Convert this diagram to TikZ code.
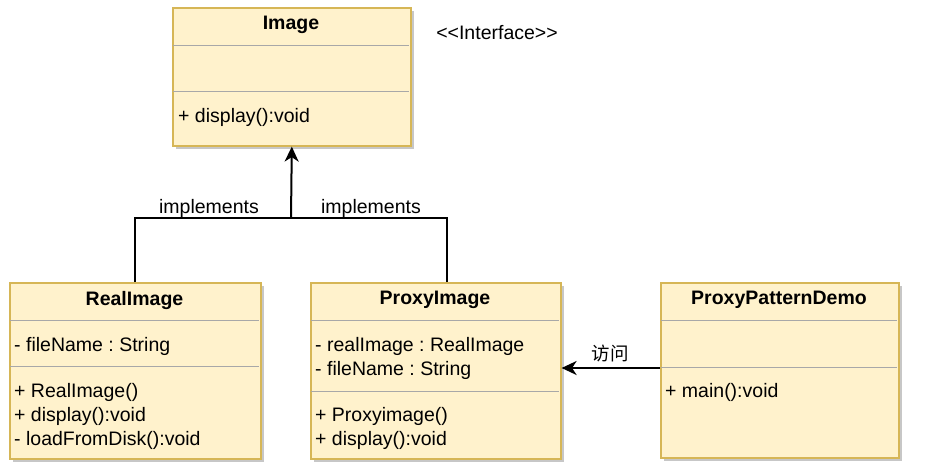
\documentclass[tikz,border=0pt]{standalone}
\usepackage{fontspec}
\setmainfont{Liberation Sans}
\newfontfamily\cjk{Noto Sans CJK SC}
\usetikzlibrary{arrows.meta,shadows}
\definecolor{clsborder}{HTML}{D6B656}
\definecolor{clsfill}{HTML}{FFF2CC}
\definecolor{divcol}{HTML}{A8A8A8}
\frenchspacing
\begin{document}
\begin{tikzpicture}[x=1pt,y=-1pt,
  cls/.style={draw=clsborder, fill=clsfill, line width=1.6pt, anchor=north west, inner sep=0pt,
    drop shadow={shadow xshift=3pt, shadow yshift=-3pt, fill=black!22, opacity=1}},
  divline/.style={draw=divcol, line width=1pt},
  title/.style={font=\fontsize{19.5}{23}\selectfont\bfseries, inner sep=0pt},
  txt/.style={font=\fontsize{19.5}{23}\selectfont, anchor=west, inner sep=0pt},
  lbl/.style={font=\fontsize{19.5}{23}\selectfont, inner sep=1pt},
  conn/.style={line width=2pt, draw=black},
  tip/.style={-{Stealth[length=15pt,width=14pt,inset=4.5pt]}}
]
\useasboundingbox (0,0) rectangle (950,475);

% Image
\node[cls, minimum width=238pt, minimum height=138pt] (image) at (172,7) {};
\draw[divline] (173,45) -- (409,45);
\draw[divline] (173,91) -- (409,91);
\node[title] (imaget) at (291,25) {Image};
\node[txt] (imagem) at (178,117) {+ display():void};
\node[lbl] (iface) at (497,33) {<{}<Interface>{}>};

% RealImage
\node[cls, minimum width=251pt, minimum height=176pt] (real) at (9,282) {};
\draw[divline] (10,320) -- (259,320);
\draw[divline] (10,366) -- (259,366);
\node[title] (realt) at (134.5,300) {RealImage};
\node[txt] (reala) at (14,346) {- fileName : String};
\node[txt] (realm1) at (14,392) {+ RealImage()};
\node[txt] (realm2) at (14,416) {+ display():void};
\node[txt] (realm3) at (14,440) {- loadFromDisk():void};

% ProxyImage
\node[cls, minimum width=250pt, minimum height=176pt] (proxy) at (310,282) {};
\draw[divline] (311,320) -- (559,320);
\draw[divline] (311,391) -- (559,391);
\node[title] (proxyt) at (435,300) {ProxyImage};
\node[txt] (proxya1) at (315,346) {- realImage : RealImage};
\node[txt] (proxya2) at (315,370) {- fileName : String};
\node[txt] (proxym1) at (315,416) {+ Proxyimage()};
\node[txt] (proxym2) at (315,440) {+ display():void};

% ProxyPatternDemo
\node[cls, minimum width=238pt, minimum height=175pt] (demo) at (660,282) {};
\draw[divline] (661,320) -- (897,320);
\draw[divline] (661,367) -- (897,367);
\node[title] (demot) at (779,300) {ProxyPatternDemo};
\node[txt] (demom) at (665,392) {+ main():void};

% connectors
\coordinate (join) at (291,218);
\draw[conn] (real.north -| 135,0) |- (join);
\draw[conn] (proxy.north -| 447,0) |- (join);
\draw[conn, tip] (join) -- (image.south);
\node[lbl] (impl1) at (209,208) {implements};
\node[lbl] (impl2) at (371,208) {implements};

\draw[conn, tip] (demo.west |- 0,368) -- (proxy.east |- 0,368);
\node[lbl, font=\fontsize{18.5}{22}\selectfont\cjk] (visit) at (610,353) {访问};
\end{tikzpicture}
\end{document}
